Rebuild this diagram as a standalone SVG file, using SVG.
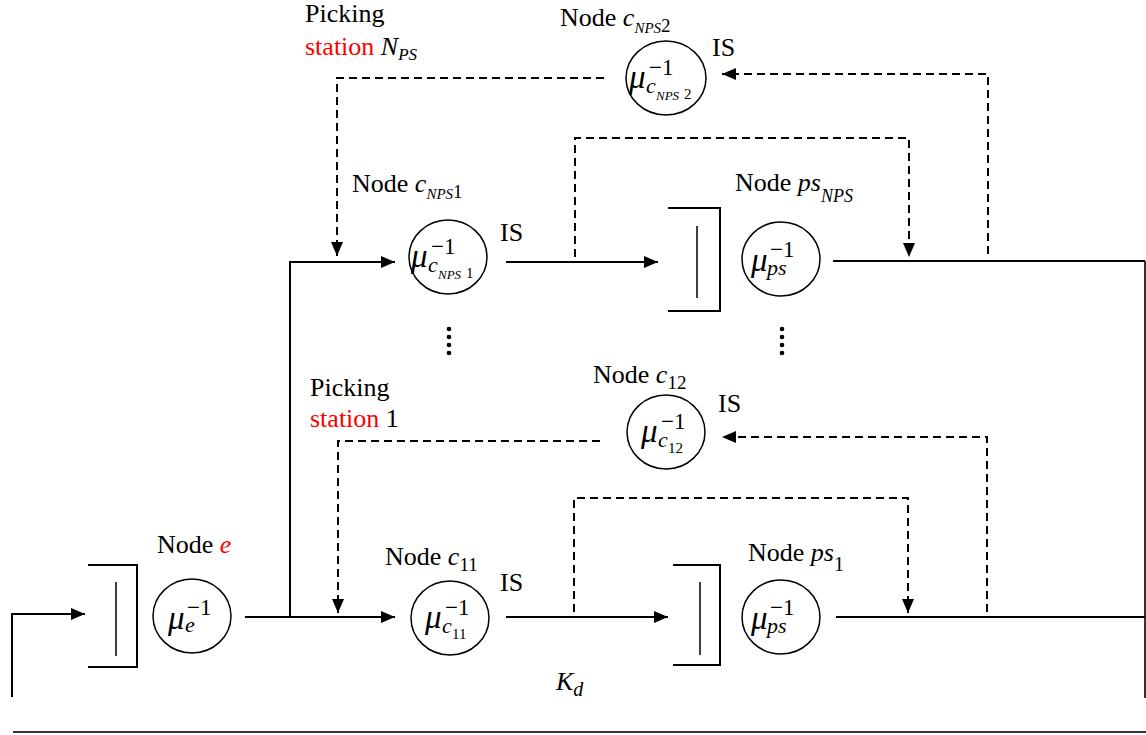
<svg xmlns="http://www.w3.org/2000/svg" width="1146" height="735" viewBox="0 0 1146 735">
<style>
text{font-family:"Liberation Serif","Times New Roman",serif}
.lbl{font-size:26px;fill:#000}
.m{font-style:italic}
.red{fill:#f00}
.mu{font-style:italic;font-size:33px}
.sup{font-style:normal;font-size:23px}
.sub{font-style:italic;font-size:22px}
.ss{font-style:italic;font-size:13px}
.ssn{font-style:normal;font-size:15px}
.node ellipse{fill:#fff;stroke:#000;stroke-width:1.5}
.q{fill:none;stroke:#000;stroke-width:2}
.qi{stroke:#000;stroke-width:1.5}
.sl{fill:none;stroke:#000;stroke-width:2}
.dl{fill:none;stroke:#000;stroke-width:2;stroke-dasharray:8 5}
.frame{fill:none;stroke:#333;stroke-width:2}
</style>
<defs>
<marker id="arr" markerUnits="userSpaceOnUse" viewBox="0 0 14 12" refX="14" refY="6" markerWidth="14" markerHeight="12" orient="auto">
<path d="M0,0 L14,6 L0,12 z" fill="#000"/>
</marker>
</defs>

<g id="connectors">
<path class="sl" d="M12,697 L12,614 L85,614" marker-end="url(#arr)"/>
<path class="frame" d="M13,732 L1146,732"/>
<path class="frame" d="M1145,261 L1145,698"/>
<path class="sl" d="M245,617 L395,617" marker-end="url(#arr)"/>
<path class="sl" d="M290,617 L290,262 L395,262" marker-end="url(#arr)"/>
<path class="sl" d="M506,617 L668,617" marker-end="url(#arr)"/>
<path class="dl" d="M574,612 L574,498 L908,498 L908,613" marker-end="url(#arr)"/>
<path class="sl" d="M836,617 L1145,617"/>
<path class="dl" d="M987,612 L987,437 L722,437" marker-end="url(#arr)"/>
<path class="dl" d="M600,441 L338,441 L338,613" marker-end="url(#arr)"/>
<path class="sl" d="M506,262 L658,262" marker-end="url(#arr)"/>
<path class="dl" d="M575,257 L575,138 L909,138 L909,257" marker-end="url(#arr)"/>
<path class="sl" d="M833,261 L1145,261"/>
<path class="dl" d="M988,254 L988,74 L722,74" marker-end="url(#arr)"/>
<path class="dl" d="M604,78 L337,78 L337,256" marker-end="url(#arr)"/>
</g>

<g id="dots">
<circle cx="449" cy="329" r="2.3"/><circle cx="449" cy="337" r="2.3"/><circle cx="449" cy="345" r="2.3"/><circle cx="449" cy="353" r="2.3"/>
<circle cx="782" cy="329" r="2.3"/><circle cx="782" cy="337" r="2.3"/><circle cx="782" cy="345" r="2.3"/><circle cx="782" cy="353" r="2.3"/>
</g>

<g id="node-e" class="node">
<path class="q" d="M88,565 L137,565 L137,667 L88,667"/>
<line class="qi" x1="116" y1="582" x2="116" y2="656"/>
<ellipse cx="192" cy="616" rx="39" ry="37"/>
<text class="mu"><tspan x="168" y="629">μ</tspan><tspan class="sup" x="187" y="615">−1</tspan><tspan class="sub" x="185" y="632">e</tspan></text>
<text class="lbl" x="157" y="553">Node <tspan class="m red">e</tspan></text>
</g>

<g id="node-c11" class="node">
<ellipse cx="450" cy="618" rx="39" ry="37"/>
<text class="mu"><tspan x="425" y="628">μ</tspan><tspan class="sup" x="445" y="615">−1</tspan><tspan class="sub" x="442" y="633">c</tspan><tspan class="ssn" x="452" y="639">11</tspan></text>
<text class="lbl" x="385" y="565">Node <tspan class="m">c</tspan><tspan font-size="19" dy="6">11</tspan></text>
<text class="lbl" x="500" y="591">IS</text>
</g>

<g id="node-ps1" class="node">
<path class="q" d="M673,565 L720,565 L720,665 L673,665"/>
<line class="qi" x1="700" y1="582" x2="700" y2="655"/>
<ellipse cx="781" cy="617" rx="39" ry="37"/>
<text class="mu"><tspan x="751" y="629">μ</tspan><tspan class="sup" x="770" y="615">−1</tspan><tspan class="sub" x="767" y="633">ps</tspan></text>
<text class="lbl" x="748" y="561">Node <tspan class="m">ps</tspan><tspan font-size="20" dy="10">1</tspan></text>
</g>

<g id="node-c12" class="node">
<ellipse cx="666" cy="432" rx="39" ry="37"/>
<text class="mu"><tspan x="641" y="442">μ</tspan><tspan class="sup" x="661" y="429">−1</tspan><tspan class="sub" x="658" y="447">c</tspan><tspan class="ssn" x="668" y="453">12</tspan></text>
<text class="lbl" x="593" y="383">Node <tspan class="m">c</tspan><tspan font-size="19" dy="6">12</tspan></text>
<text class="lbl" x="718" y="412">IS</text>
</g>

<g id="label-station1">
<text class="lbl" x="310" y="396">Picking</text>
<text class="lbl" x="310" y="427"><tspan class="red">station</tspan> 1</text>
</g>

<g id="node-cNPS1" class="node">
<ellipse cx="448" cy="257" rx="39" ry="37"/>
<text class="mu"><tspan x="411" y="267">μ</tspan><tspan class="sup" x="431" y="254">−1</tspan><tspan class="sub" x="428" y="272">c</tspan><tspan class="ss" x="438" y="279">NPS</tspan><tspan class="ssn" x="466" y="278">1</tspan></text>
<text class="lbl" x="352" y="192">Node <tspan class="m">c</tspan><tspan class="m" font-size="15" dy="7">NPS</tspan><tspan font-size="19" dy="-1">1</tspan></text>
<text class="lbl" x="500" y="241">IS</text>
</g>

<g id="node-psNPS" class="node">
<path class="q" d="M668,208 L720,208 L720,311 L668,311"/>
<line class="qi" x1="697" y1="226" x2="697" y2="298"/>
<ellipse cx="781" cy="259" rx="39" ry="37"/>
<text class="mu"><tspan x="751" y="271">μ</tspan><tspan class="sup" x="770" y="257">−1</tspan><tspan class="sub" x="767" y="275">ps</tspan></text>
<text class="lbl" x="735" y="191">Node <tspan class="m">ps</tspan><tspan class="m" font-size="18" dy="11">NPS</tspan></text>
</g>

<g id="node-cNPS2" class="node">
<ellipse cx="666" cy="78" rx="40" ry="37"/>
<text class="mu"><tspan x="629" y="88">μ</tspan><tspan class="sup" x="649" y="75">−1</tspan><tspan class="sub" x="646" y="93">c</tspan><tspan class="ss" x="656" y="100">NPS</tspan><tspan class="ssn" x="684" y="99">2</tspan></text>
<text class="lbl" x="560" y="26">Node <tspan class="m">c</tspan><tspan class="m" font-size="15" dy="7">NPS</tspan><tspan font-size="19" dy="-1">2</tspan></text>
<text class="lbl" x="712" y="56">IS</text>
</g>

<g id="label-stationNPS">
<text class="lbl" x="305" y="22">Picking</text>
<text class="lbl" x="305" y="55"><tspan class="red">station</tspan> <tspan class="m">N</tspan><tspan class="m" font-size="17" dy="5">PS</tspan></text>
</g>

<text class="lbl m" x="556" y="690" font-size="28">K<tspan font-size="20" dy="6">d</tspan></text>
</svg>
